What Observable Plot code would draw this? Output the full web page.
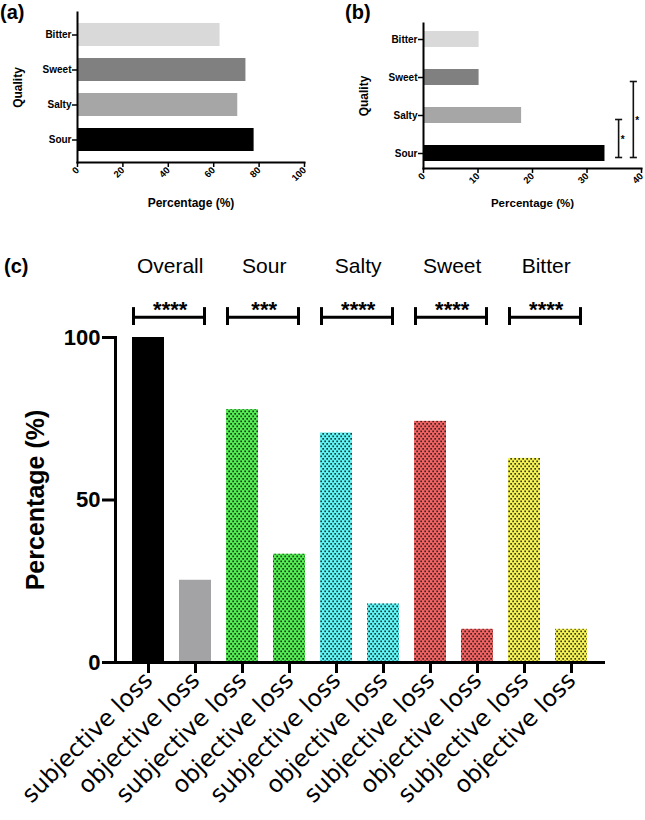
<!DOCTYPE html>
<html><head><meta charset="utf-8">
<script src="https://cdn.jsdelivr.net/npm/d3@7"></script>
<script src="https://cdn.jsdelivr.net/npm/@observablehq/plot@0.6"></script>
<style>
body{margin:0;background:#fff;}
#page{position:relative;width:645px;height:820px;overflow:hidden;background:#fff;font-family:"Liberation Sans",Arial,sans-serif;}
.panel{position:absolute;}
.tag{position:absolute;font-weight:bold;font-size:20px;line-height:1;color:#000;}
</style></head><body>
<div id="page">
<svg width="0" height="0" style="position:absolute">
  <defs>
    <pattern id="dots" width="4" height="5" patternUnits="userSpaceOnUse">
      <rect x="0.3" y="0.5" width="1.7" height="1.7" fill="#1c1c1c" fill-opacity="0.85"></rect>
      <rect x="2.3" y="3.0" width="1.7" height="1.7" fill="#1c1c1c" fill-opacity="0.85"></rect>
    </pattern>
  </defs>
</svg>
<div id="pa" class="panel" style="left:0;top:0"></div>
<div id="pb" class="panel" style="left:320px;top:0"></div>
<div id="pc" class="panel" style="left:0;top:215px"></div>
<div class="tag" style="left:0;top:2px">(a)</div>
<div class="tag" style="left:345px;top:2px">(b)</div>
<div class="tag" style="left:4px;top:256px">(c)</div>
</div>
<script>
// ---------------- data ----------------
const groups = ["Overall", "Sour", "Salty", "Sweet", "Bitter"];
const subjectiveLoss = [100, 77.8, 70.6, 74.2, 62.8];
const objectiveLoss = [25.3, 33.3, 18.0, 10.2, 10.2];
const significance = ["****", "***", "****", "****", "****"];
const lossTypes = ["subjective", "objective"];
const qualityOrder = ["Bitter", "Sweet", "Salty", "Sour"];
const xTicksA = [0, 20, 40, 60, 80, 100];
const xTicksB = [0, 10, 20, 30, 40];
const yTicksC = [0, 50, 100];
const bracketFrom = ["Salty", "Sweet"];
const bracketTo = ["Sour", "Sour"];
const bracketAt = [35.8, 38.5];
const bracketLabel = ["*", "*"];

// ---------------- styles ----------------
const font = '"Liberation Sans", Arial, sans-serif';
const grayFill = {Sour: "#000000", Salty: "#a6a6a6", Sweet: "#808080", Bitter: "#d9d9d9"};
const groupFill = {Overall: ["#000000", "#a3a3a6"], Sour: ["#52ee52", "#52ee52"], Salty: ["#5ef6f6", "#5ef6f6"], Sweet: ["#f26262", "#f26262"], Bitter: ["#f6f455", "#f6f455"]};

const tastes = groups.slice(1);
const dataA = tastes.map((q, i) => ({quality: q, value: subjectiveLoss[i + 1]}));
const dataB = tastes.map((q, i) => ({quality: q, value: objectiveLoss[i + 1]}));

// ---------------- panel (a) ----------------
const pa = Plot.plot({
  width: 320, height: 215,
  marginLeft: 77, marginRight: 16, marginTop: 12, marginBottom: 53,
  style: {fontFamily: font, color: "#000", background: "transparent", overflow: "visible"},
  x: {domain: [0, 100]},
  y: {domain: qualityOrder, paddingInner: 0.34, paddingOuter: 0.31},
  color: {type: "identity"},
  marks: [
    Plot.barX(dataA, {x: "value", y: "quality", fill: d => grayFill[d.quality]}),
    Plot.frame({anchor: "left", strokeWidth: 2}),
    Plot.frame({anchor: "bottom", strokeWidth: 2}),
    Plot.axisX({ticks: xTicksA, tickSize: 5, strokeWidth: 1.5, tickRotate: -45, tickPadding: 1, fontSize: 9.5, fontWeight: "bold", label: null}),
    Plot.axisX({ticks: [], label: "Percentage (%)", labelAnchor: "center", labelOffset: 44, fontSize: 12, fontWeight: "bold", labelArrow: "none"}),
    Plot.axisY({tickSize: 5, strokeWidth: 1.5, tickPadding: 1, fontSize: 10, fontWeight: "bold", label: null}),
    Plot.axisY({ticks: [], label: "Quality", labelAnchor: "center", labelOffset: 64, fontSize: 12, fontWeight: "bold", labelArrow: "none"})
  ]
});
document.getElementById("pa").append(pa);

// ---------------- panel (b) ----------------
const padInB = 0.59, padOutB = 0.17;
const stepB = (215 - 23 - 47) / (qualityOrder.length - padInB + 2 * padOutB);
const bracketMarks = bracketAt.flatMap((at, i) => {
  const d = [{at, from: bracketFrom[i], to: bracketTo[i], label: bracketLabel[i]}];
  const mid = (qualityOrder.indexOf(bracketFrom[i]) - qualityOrder.indexOf(bracketTo[i])) / 2 * stepB;
  return [
    Plot.link(d, {x1: "at", x2: "at", y1: "from", y2: "to", dy: 4, strokeWidth: 1.6, stroke: "#111"}),
    Plot.link(d, {x1: b => b.at - 0.65, x2: b => b.at + 0.65, y1: "from", y2: "from", dy: 4, strokeWidth: 1.6, stroke: "#111"}),
    Plot.link(d, {x1: b => b.at - 0.65, x2: b => b.at + 0.65, y1: "to", y2: "to", dy: 4, strokeWidth: 1.6, stroke: "#111"}),
    Plot.text(d, {x: "at", y: "to", text: "label", dx: 4, dy: mid + 6, fontSize: 10, fontWeight: "bold"})
  ];
});
const pb = Plot.plot({
  width: 325, height: 215,
  marginLeft: 103, marginRight: 4, marginTop: 23, marginBottom: 47,
  style: {fontFamily: font, color: "#000", background: "transparent", overflow: "visible"},
  x: {domain: [0, 40]},
  y: {domain: qualityOrder, paddingInner: padInB, paddingOuter: padOutB},
  color: {type: "identity"},
  marks: [
    Plot.barX(dataB, {x: "value", y: "quality", fill: d => grayFill[d.quality]}),
    ...bracketMarks,
    Plot.frame({anchor: "left", strokeWidth: 2}),
    Plot.frame({anchor: "bottom", strokeWidth: 2}),
    Plot.axisX({ticks: xTicksB, tickSize: 5, strokeWidth: 1.5, tickRotate: -45, tickPadding: 1, fontSize: 9.5, fontWeight: "bold", label: null}),
    Plot.axisX({ticks: [], label: "Percentage (%)", labelAnchor: "center", labelOffset: 38, fontSize: 11.5, fontWeight: "bold", labelArrow: "none"}),
    Plot.axisY({tickSize: 5, strokeWidth: 1.5, tickPadding: 1, fontSize: 10, fontWeight: "bold", label: null}),
    Plot.axisY({ticks: [], label: "Quality", labelAnchor: "center", labelOffset: 64, fontSize: 12, fontWeight: "bold", labelArrow: "none"})
  ]
});
document.getElementById("pb").append(pb);

// ---------------- panel (c) ----------------
const dataC = groups.flatMap((g, i) => lossTypes.map((t, j) => ({
  group: g, type: t, key: g + "|" + t,
  value: j === 0 ? subjectiveLoss[i] : objectiveLoss[i],
  fill: groupFill[g][j]
})));
const keysC = dataC.map(d => d.key);
const padIn = 0.325, padOut = 0.31;
const widthC = 645, mlC = 115, mrC = 42;
const step = (widthC - mlC - mrC) / (keysC.length - padIn + 2 * padOut);
const bw = step * (1 - padIn);
const sig = groups.map((g, i) => ({group: g, s: g + "|subjective", o: g + "|objective", stars: significance[i]}));

const pc = Plot.plot({
  width: widthC, height: 605,
  marginLeft: mlC, marginRight: mrC, marginTop: 122, marginBottom: 158,
  style: {fontFamily: font, color: "#000", background: "transparent", overflow: "visible"},
  x: {domain: keysC, paddingInner: padIn, paddingOuter: padOut},
  y: {domain: [0, 100]},
  color: {type: "identity"},
  marks: [
    Plot.barY(dataC, {x: "key", y: "value", fill: "fill"}),
    Plot.barY(dataC.filter(d => d.group !== "Overall"), {x: "key", y: "value", fill: "url(#dots)"}),
    Plot.frame({anchor: "left", strokeWidth: 3}),
    Plot.frame({anchor: "bottom", strokeWidth: 3}),
    Plot.axisX({tickSize: 11, strokeWidth: 3, tickRotate: -45, tickPadding: 3, fontSize: 23.5, fontFamily: '"DejaVu Sans", sans-serif', tickFormat: k => k.split("|")[1] + " loss", label: null}),
    Plot.axisY({ticks: yTicksC, tickSize: 13, strokeWidth: 3, tickPadding: 2, fontSize: 22, fontWeight: "bold", label: null}),
    Plot.axisY({ticks: [], label: "Percentage (%)", labelAnchor: "center", labelOffset: 89, fontSize: 25, fontWeight: "bold", labelArrow: "none"}),
    Plot.ruleY(sig, {x1: "s", x2: "o", y: 106.2, strokeWidth: 3, insetLeft: 1, insetRight: 7}),
    Plot.ruleX(sig, {x: "s", y1: 103.7, y2: 109.2, strokeWidth: 3, dx: -bw / 2 + 1}),
    Plot.ruleX(sig, {x: "o", y1: 103.7, y2: 109.2, strokeWidth: 3, dx: bw / 2 - 7}),
    Plot.text(sig, {x: "s", y: 106.2, text: "stars", dx: step / 2 - 2, fontSize: 22, fontWeight: "bold", lineAnchor: "bottom"}),
    Plot.text(sig, {x: "s", y: 120, text: "group", dx: step / 2 - 2, fontSize: 21, lineAnchor: "bottom"})
  ]
});
document.getElementById("pc").append(pc);
</script>
</body></html>
